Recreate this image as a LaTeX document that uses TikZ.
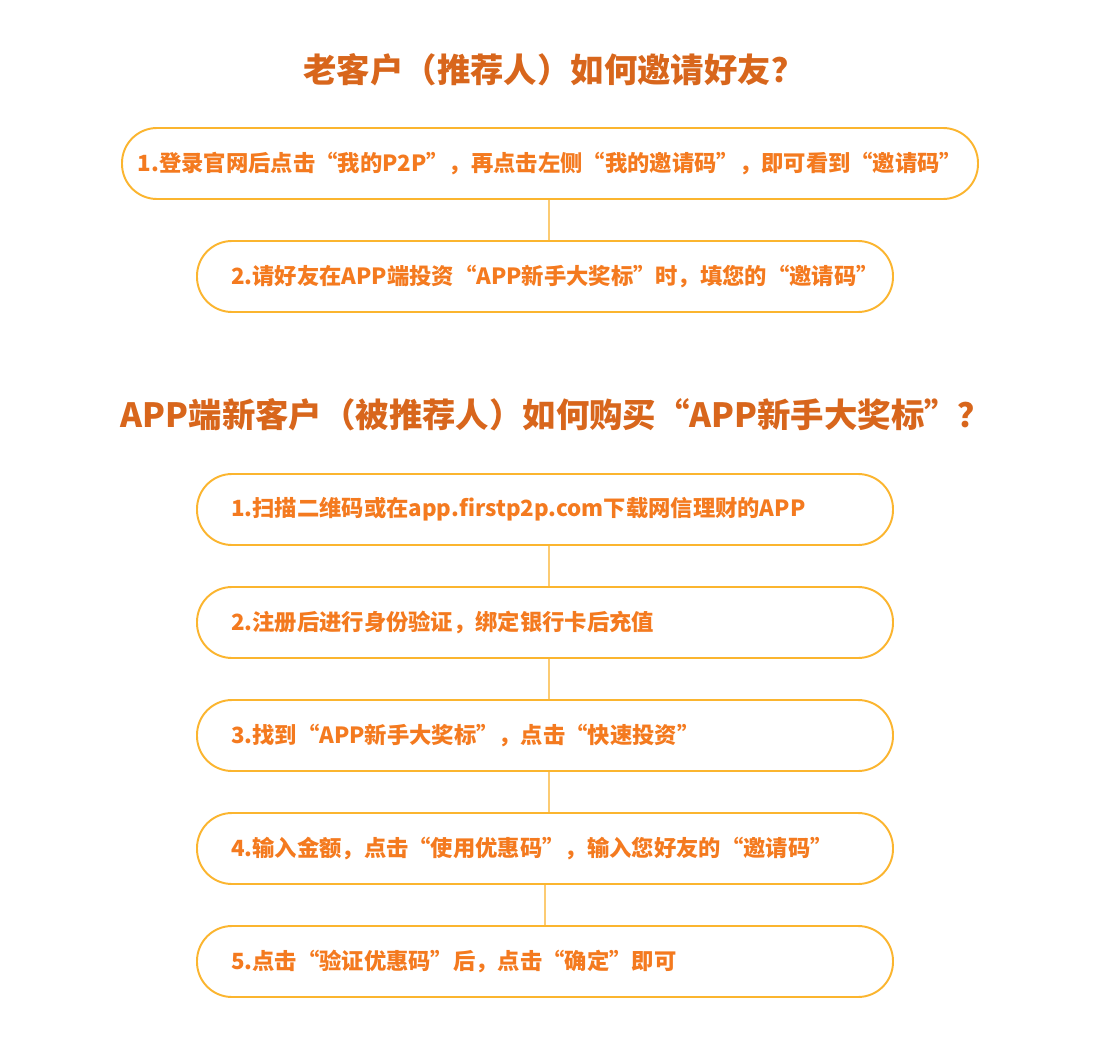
\documentclass[tikz,border=0pt]{standalone}
\usepackage{fontspec}
\setmainfont{Noto Sans CJK SC}
\usetikzlibrary{positioning}
\definecolor{titleorange}{HTML}{D8661C}
\definecolor{steporange}{HTML}{F47A1F}
\definecolor{pillgold}{HTML}{FBB52F}
\definecolor{linkgold}{HTML}{FCCB73}

\begin{document}
\begin{tikzpicture}[
    heading/.style={text=titleorange,font=\bfseries\fontsize{19}{23}\selectfont},
    pill/.style={draw=pillgold,line width=1.1pt,rounded corners=0.7cm,
      minimum height=1.42cm,text=steporange,
      font=\bfseries\fontsize{12.7}{15}\selectfont},
    stepbox/.style={pill,inner xsep=0.68cm,text width=12.56cm,align=left},
    link/.style={draw=linkgold,line width=0.6pt}]
      \useasboundingbox[fill=white] (0,0) rectangle (22,-21.22);
      % old customer
      \node[heading] (t1) at (11.08,-1.40) {老客户（推荐人）如何邀请好友？};
      \node[pill,minimum width=17.12cm] (b1) at (11.0,-3.27)
      {1.登录官网后点击“我的P2P”，再点击左侧“我的邀请码”，即可看到“邀请码”};
      \node[stepbox] (b2) at (10.9,-5.53)
      {2.请好友在APP端投资“APP新手大奖标”时，填您的“邀请码”};
      \draw[link] ([xshift=-0.02cm]b1.south) -- ([xshift=-0.02cm]b1.south |- b2.north);
      % new customer
      \node[heading] (t2) at (11.12,-8.30)
      {APP端新客户（被推荐人）如何购买“APP新手大奖标”？};
      \foreach \n/\y/\txt in {3/-10.19/{1.扫描二维码或在app.firstp2p.com下载网信理财的APP},
        4/-12.45/{2.注册后进行身份验证，绑定银行卡后充值},
        5/-14.71/{3.找到“APP新手大奖标”，点击“快速投资”},
        6/-16.97/{4.输入金额，点击“使用优惠码”，输入您好友的“邀请码”},
        7/-19.23/{5.点击“验证优惠码”后，点击“确定”即可}}
      \node[stepbox] (b\n) at (10.9,\y) {\txt};
      \foreach \a/\b in {3/4,4/5,5/6}
      \draw[link] ([xshift=0.08cm]b\a.south) -- ([xshift=0.08cm]b\b.north);
      \draw[link] (b6.south) -- (b7.north);
    \end{tikzpicture}
\end{document}
